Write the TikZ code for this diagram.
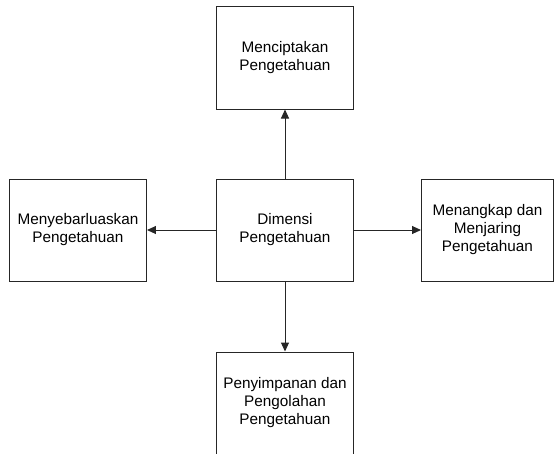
\documentclass[tikz,border=0pt]{standalone}
\usepackage{fontspec}
\setmainfont{Liberation Sans}
\usetikzlibrary{positioning, arrows.meta}

\begin{document}
\begin{tikzpicture}[node distance=69pt and 69pt, >={Triangle[length=9pt, width=8pt]}, every node/.style={font=\fontsize{15.3}{18}\selectfont},
    kotak/.style={draw=black!85, rectangle, line width=1pt, align=center, inner sep=0pt, minimum width=137pt, minimum height=102pt}]
    \clip (-285pt,-223pt) rectangle (271pt,230pt);
    \node [kotak] (dimensi) {Dimensi\\Pengetahuan};
    \node [kotak, above=of dimensi] (cipta) {Menciptakan\\Pengetahuan};
    \node [kotak, left=of dimensi] (sebar) {Menyebarluaskan\\Pengetahuan};
    \node [kotak, minimum width=132pt, right=67pt of dimensi] (tangkap) {Menangkap dan\\Menjaring\\Pengetahuan};
    \node [kotak, below=70pt of dimensi] (simpan) {Penyimpanan dan\\Pengolahan\\Pengetahuan};

    \draw [->, line width=1pt, black!85] (dimensi) -- (cipta);
    \draw [->, line width=1pt, black!85] (dimensi) -- (sebar);
    \draw [->, line width=1pt, black!85] (dimensi) -- (tangkap);
    \draw [->, line width=1pt, black!85] (dimensi) -- (simpan);
\end{tikzpicture}
\end{document}
